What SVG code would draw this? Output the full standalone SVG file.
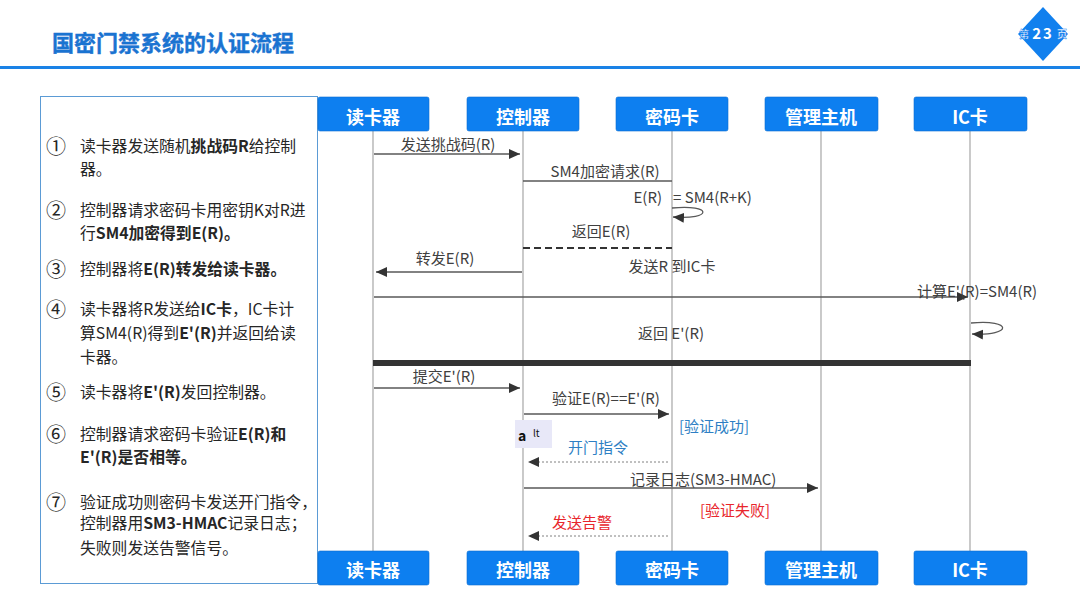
<svg xmlns="http://www.w3.org/2000/svg" width="1080" height="608" viewBox="0 0 1080 608">
<style>
text{font-family:"Noto Sans CJK SC","Liberation Sans",sans-serif;}
.desc{font-size:15.8px;fill:#262626;}
.num{font-size:20px;fill:#262626;}
.b{font-weight:bold;}
.hdr{fill:#0d7ff0;stroke:#0a6cd0;stroke-width:0.6;}
.hdrt{font-size:18px;font-weight:bold;fill:#fff;text-anchor:middle;}
.life{stroke:#a6a6a6;stroke-width:1.2;fill:none;}
.msg{stroke:#595959;stroke-width:1.3;fill:none;}
.lbl{font-size:15px;fill:#404040;}
.mid{text-anchor:middle;}
.blue{fill:#2e7fc4;}
.red{fill:#e8262c;}
.dot{stroke:#808080;stroke-width:1;stroke-dasharray:2,2;fill:none;}
</style>
<defs>
<marker id="ah" viewBox="0 0 11 10" refX="11" refY="5" markerWidth="11" markerHeight="10" markerUnits="userSpaceOnUse" orient="auto">
<path d="M0,0 L11,5 L0,10 z" fill="#333"/>
</marker>
</defs>
<rect width="1080" height="608" fill="#fff"/>
<g id="header">
<text x="52" y="51" style="font-size:22px;font-weight:bold;fill:#1a73d1;stroke:#1a73d1;stroke-width:0.4;">国密门禁系统的认证流程</text>
<rect x="0" y="66" width="1080" height="3" fill="#1a82e6"/>
<polygon points="1043,7 1068,34 1043,61 1018,34" fill="#1180ee"/>
<text x="1024" y="38" style="font-size:10px;fill:#fff;font-weight:bold;stroke:#1180ee;stroke-width:0.4;" text-anchor="middle">第</text>
<text x="1043" y="39" style="font-size:15px;fill:#fff;font-weight:bold;letter-spacing:2px;" text-anchor="middle">23</text>
<text x="1062" y="38" style="font-size:10px;fill:#fff;font-weight:bold;stroke:#1180ee;stroke-width:0.4;" text-anchor="middle">页</text>
</g>
<g id="steps">
<rect x="40.5" y="96.5" width="277" height="487" fill="#fff" stroke="#5b9bd5" stroke-width="1"/>
<text class="num" x="46" y="154">①</text>
<text class="desc" x="80" y="152">读卡器发送随机<tspan class="b">挑战码R</tspan>给控制</text>
<text class="desc" x="80" y="175">器。</text>
<text class="num" x="46" y="218">②</text>
<text class="desc" x="80" y="216">控制器请求密码卡用密钥K对R进</text>
<text class="desc" x="80" y="239">行<tspan class="b">SM4加密得到E(R)。</tspan></text>
<text class="num" x="46" y="277">③</text>
<text class="desc" x="80" y="275">控制器将<tspan class="b">E(R)转发给读卡器。</tspan></text>
<text class="num" x="46" y="317">④</text>
<text class="desc" x="80" y="315">读卡器将R发送给<tspan class="b">IC卡</tspan>，IC卡计</text>
<text class="desc" x="80" y="339">算SM4(R)得到<tspan class="b">E'(R)</tspan>并返回给读</text>
<text class="desc" x="80" y="363">卡器。</text>
<text class="num" x="46" y="400">⑤</text>
<text class="desc" x="80" y="398">读卡器将<tspan class="b">E'(R)</tspan>发回控制器。</text>
<text class="num" x="46" y="442">⑥</text>
<text class="desc" x="80" y="440">控制器请求密码卡验证<tspan class="b">E(R)和</tspan></text>
<text class="desc b" x="80" y="463">E'(R)是否相等。</text>
<text class="num" x="46" y="510">⑦</text>
<text class="desc" x="80" y="508">验证成功则密码卡发送开门指令，</text>
<text class="desc" x="80" y="529">控制器用<tspan class="b">SM3-HMAC</tspan>记录日志；</text>
<text class="desc" x="80" y="554">失败则发送告警信号。</text>
</g>
<g id="lifelines">
<line class="life" x1="373" y1="131" x2="373" y2="551"/>
<line class="life" x1="523" y1="131" x2="523" y2="551"/>
<line class="life" x1="672" y1="131" x2="672" y2="551"/>
<line class="life" x1="821" y1="131" x2="821" y2="551"/>
<line class="life" x1="970" y1="131" x2="970" y2="551"/>
</g>
<g id="node-reader">
<rect class="hdr" x="318" y="97" width="111" height="34" rx="2"/>
<text class="hdrt" x="373" y="124">读卡器</text>
<rect class="hdr" x="318" y="551" width="111" height="34" rx="2"/>
<text class="hdrt" x="373" y="577">读卡器</text>
</g>
<g id="node-controller">
<rect class="hdr" x="467" y="97" width="112" height="34" rx="2"/>
<text class="hdrt" x="523" y="124">控制器</text>
<rect class="hdr" x="467" y="551" width="112" height="34" rx="2"/>
<text class="hdrt" x="523" y="577">控制器</text>
</g>
<g id="node-cryptocard">
<rect class="hdr" x="616" y="97" width="112" height="34" rx="2"/>
<text class="hdrt" x="672" y="124">密码卡</text>
<rect class="hdr" x="616" y="551" width="112" height="34" rx="2"/>
<text class="hdrt" x="672" y="577">密码卡</text>
</g>
<g id="node-host">
<rect class="hdr" x="765" y="97" width="113" height="34" rx="2"/>
<text class="hdrt" x="821" y="124">管理主机</text>
<rect class="hdr" x="765" y="551" width="113" height="34" rx="2"/>
<text class="hdrt" x="821" y="577">管理主机</text>
</g>
<g id="node-iccard">
<rect class="hdr" x="914" y="97" width="113" height="34" rx="2"/>
<text class="hdrt" x="970" y="124">IC卡</text>
<rect class="hdr" x="914" y="551" width="113" height="34" rx="2"/>
<text class="hdrt" x="970" y="577">IC卡</text>
</g>
<g id="connectors">
<line class="msg" x1="374" y1="154" x2="520" y2="154" marker-end="url(#ah)"/>
<line class="msg" x1="523" y1="181" x2="672" y2="181"/>
<path class="msg" d="M672,208 C713,204 713,220 673,217" marker-end="url(#ah)"/>
<line x1="523" y1="248" x2="672" y2="248" stroke="#333" stroke-width="2" stroke-dasharray="7,4"/>
<line class="msg" x1="522" y1="272" x2="376" y2="272" marker-end="url(#ah)"/>
<line class="msg" x1="374" y1="297" x2="968" y2="297" marker-end="url(#ah)"/>
<path class="msg" d="M971,323 C1013,319 1013,336 972,334" marker-end="url(#ah)"/>
<rect x="373" y="360" width="598" height="6" fill="#333"/>
<line class="msg" x1="374" y1="388" x2="520" y2="388" marker-end="url(#ah)"/>
<line class="msg" x1="524" y1="414" x2="669" y2="414" marker-end="url(#ah)"/>
<line class="dot" x1="668" y1="462" x2="528" y2="462" marker-end="url(#ah)"/>
<line class="msg" x1="524" y1="488" x2="818" y2="488" marker-end="url(#ah)"/>
<line class="dot" x1="668" y1="536" x2="528" y2="536" marker-end="url(#ah)"/>
</g>
<g id="labels">
<text class="lbl mid" x="448" y="150">发送挑战码(R)</text>
<text class="lbl mid" x="605" y="177">SM4加密请求(R)</text>
<text class="lbl" x="662" y="203" text-anchor="end">E(R)</text>
<text class="lbl" x="673" y="203">= SM4(R+K)</text>
<text class="lbl mid" x="601" y="237">返回E(R)</text>
<text class="lbl mid" x="445" y="264">转发E(R)</text>
<text class="lbl mid" x="672" y="272">发送R 到IC卡</text>
<text class="lbl" x="917" y="297">计算E'(R)=SM4(R)</text>
<text class="lbl mid" x="671" y="339">返回 E'(R)</text>
<text class="lbl mid" x="444" y="382">提交E'(R)</text>
<text class="lbl mid" x="606" y="404">验证E(R)==E'(R)</text>
<rect x="515" y="420" width="37" height="28" fill="#e8e8f8"/>
<text x="518" y="441" style="font-size:14px;font-weight:bold;fill:#111;">a</text>
<text x="533" y="437" style="font-size:10px;fill:#111;">lt</text>
<text class="lbl blue" x="679" y="432">[验证成功]</text>
<text class="lbl mid blue" x="598" y="453">开门指令</text>
<text class="lbl" x="630" y="485">记录日志(SM3-HMAC)</text>
<text class="lbl red" x="700" y="516">[验证失败]</text>
<text class="lbl mid red" x="582" y="528">发送告警</text>
</g>
</svg>
